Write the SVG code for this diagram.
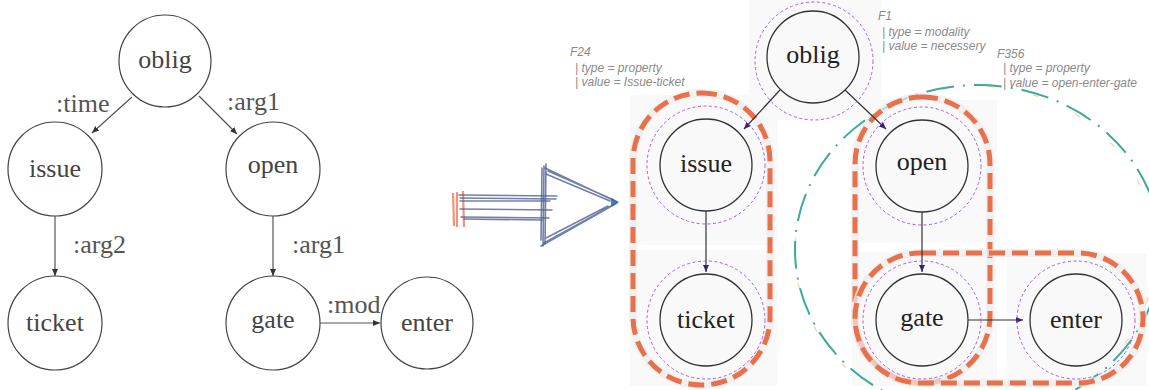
<svg xmlns="http://www.w3.org/2000/svg" width="1149" height="390" viewBox="0 0 1149 390">
<style>
.bg{fill:#ffffff}
.lc{fill:none;stroke:#444;stroke-width:1.2}
.lt{font-family:"Liberation Serif","Times New Roman","DejaVu Serif",serif;font-size:26px;fill:#444;text-anchor:middle}
.ll{font-family:"Liberation Serif","Times New Roman","DejaVu Serif",serif;font-size:26px;fill:#555}
.edge{fill:none;stroke:#555;stroke-width:1.2}
.tile{fill:#f9f9f9}
.rc{fill:none;stroke:#333;stroke-width:1.3}
.dot{fill:none;stroke:#a45ee8;stroke-width:1;stroke-dasharray:3 2.5}
.rt{font-family:"Liberation Serif","Times New Roman","DejaVu Serif",serif;font-size:26px;fill:#222;text-anchor:middle}
.redge{fill:none;stroke:#333;stroke-width:1.2}
.grp{fill:none;stroke:#e8714c;stroke-width:5;stroke-dasharray:16 7}
.halo{fill:none;stroke:#ececec;stroke-width:8;stroke-opacity:0.7}
.teal{fill:none;stroke:#3ea99c;stroke-width:2;stroke-dasharray:28 9 2 9}
.yel{fill:none;stroke:#f6dcae;stroke-width:1.5;stroke-dasharray:6 40}
.ft{font-family:"Liberation Sans","DejaVu Sans",sans-serif;font-size:12px;font-style:italic;fill:#8a8a8a}
.sk{fill:none;stroke:#4d5f93;stroke-width:1.6;stroke-opacity:0.8;stroke-linecap:round}
.sko{fill:none;stroke:#ec7a5c;stroke-width:2.2;stroke-opacity:0.8}
</style>
<defs>
<marker id="ah" markerWidth="8" markerHeight="8" refX="7" refY="4" orient="auto" markerUnits="userSpaceOnUse">
<path d="M0,1 L7,4 L0,7 Z" fill="#333"/>
</marker>
<marker id="ahp" markerWidth="8" markerHeight="8" refX="7" refY="4" orient="auto" markerUnits="userSpaceOnUse">
<path d="M0,1 L7,4 L0,7 Z" fill="#3a2270"/>
</marker>
</defs>
<rect class="bg" x="0" y="0" width="1149" height="390"/>

<!-- Left graph -->
<g id="left-connectors">
<line class="edge" x1="132" y1="97" x2="92" y2="133" marker-end="url(#ah)"/>
<line class="edge" x1="199" y1="96" x2="237" y2="134" marker-end="url(#ah)"/>
<line class="edge" x1="55" y1="216" x2="55" y2="276" marker-end="url(#ah)"/>
<line class="edge" x1="273" y1="216" x2="273" y2="276" marker-end="url(#ah)"/>
<line class="edge" x1="320" y1="323" x2="380" y2="323" marker-end="url(#ah)"/>
<text class="ll" x="56" y="112">:time</text>
<text class="ll" x="227" y="110">:arg1</text>
<text class="ll" x="73" y="253">:arg2</text>
<text class="ll" x="292" y="253">:arg1</text>
<text class="ll" x="327" y="313">:mod</text>
</g>
<g id="l-oblig"><circle class="lc" cx="165" cy="61" r="46"/><text class="lt" x="165" y="68">oblig</text></g>
<g id="l-issue"><circle class="lc" cx="55" cy="169" r="47"/><text class="lt" x="55" y="177">issue</text></g>
<g id="l-open"><circle class="lc" cx="273" cy="169" r="47"/><text class="lt" x="273" y="173">open</text></g>
<g id="l-ticket"><circle class="lc" cx="55" cy="323" r="47"/><text class="lt" x="55" y="331">ticket</text></g>
<g id="l-gate"><circle class="lc" cx="273" cy="323" r="47"/><text class="lt" x="273" y="328">gate</text></g>
<g id="l-enter"><circle class="lc" cx="427" cy="323" r="46"/><text class="lt" x="427" y="331">enter</text></g>

<!-- Sketch arrow -->
<g id="transform-arrow">
<line class="sko" x1="453" y1="193" x2="454" y2="226"/>
<line class="sko" x1="457" y1="192" x2="457" y2="227"/>
<line class="sko" x1="463" y1="191" x2="464" y2="227"/>
<path class="sk" d="M459,195 L557,196 M460,198 L556,199 M460,201 L550,201 M460,209 L552,210 M461,217 L549,218 M464,219 L542,220"/>
<path class="sk" d="M544,166 L543,246 M546,164 L545,244 M542,168 L541,240"/>
<path class="sk" d="M545,168 L617,202 M548,171 L614,200 M546,174 L610,201 M541,246 L617,203 M544,243 L613,205 M546,238 L608,206"/>
<path d="M611,198 L619,202 L611,207 Z" fill="#2d6aa8" opacity="0.85"/>
</g>

<!-- Right graph tiles -->
<g id="tiles">
<rect class="tile" x="749" y="0" width="132" height="120"/>
<rect class="tile" x="630" y="95" width="147" height="150"/>
<rect class="tile" x="630" y="250" width="147" height="136"/>
<rect class="tile" x="856" y="100" width="141" height="143"/>
<rect class="tile" x="852" y="252" width="145" height="134"/>
<rect class="tile" x="1007" y="253" width="140" height="133"/>
</g>

<!-- Group annotations -->
<g id="groups">
<ellipse class="yel" cx="975" cy="252" rx="180" ry="166"/>
<ellipse class="teal" cx="978" cy="250" rx="183" ry="165"/>
<rect class="halo" x="633" y="93" width="137" height="292" rx="68"/>
<rect class="grp" x="633" y="93" width="137" height="292" rx="68"/>
<rect class="halo" x="855" y="97" width="135" height="286" rx="67"/>
<rect class="grp" x="855" y="97" width="135" height="286" rx="67"/>
<rect class="halo" x="855" y="253" width="288" height="130" rx="65"/>
<rect class="grp" x="855" y="253" width="288" height="130" rx="65"/>
</g>

<g id="right-connectors">
<line class="redge" x1="780" y1="90" x2="744" y2="129" marker-end="url(#ahp)"/>
<line class="redge" x1="845" y1="90" x2="886" y2="129" marker-end="url(#ahp)"/>
<line class="redge" x1="706" y1="211" x2="706" y2="272" marker-end="url(#ahp)"/>
<line class="redge" x1="922" y1="212" x2="922" y2="272" marker-end="url(#ahp)"/>
<line class="redge" x1="968" y1="320" x2="1023" y2="320" marker-end="url(#ahp)"/>
</g>

<g id="r-oblig"><circle class="dot" cx="814" cy="61" r="59"/><circle class="rc" cx="813" cy="57" r="46"/><text class="rt" x="813" y="63">oblig</text></g>
<g id="r-issue"><circle class="dot" cx="706" cy="165" r="59"/><circle class="rc" cx="706" cy="165" r="46"/><text class="rt" x="706" y="172">issue</text></g>
<g id="r-ticket"><circle class="dot" cx="706" cy="320" r="59"/><circle class="rc" cx="706" cy="320" r="46"/><text class="rt" x="706" y="328">ticket</text></g>
<g id="r-open"><circle class="dot" cx="922" cy="166" r="59"/><circle class="rc" cx="922" cy="166" r="46"/><text class="rt" x="922" y="170">open</text></g>
<g id="r-gate"><circle class="dot" cx="922" cy="320" r="59"/><circle class="rc" cx="922" cy="320" r="46"/><text class="rt" x="922" y="326">gate</text></g>
<g id="r-enter"><circle class="dot" cx="1076" cy="320" r="59"/><circle class="rc" cx="1076" cy="320" r="46"/><text class="rt" x="1076" y="328">enter</text></g>

<g id="feature-labels">
<text class="ft" x="570" y="56">F24</text>
<text class="ft" x="575" y="72">| type = property</text>
<text class="ft" x="575" y="86">| value = Issue-ticket</text>
<text class="ft" x="878" y="20">F1</text>
<text class="ft" x="882" y="36">| type = modality</text>
<text class="ft" x="882" y="50">| value = necessery</text>
<text class="ft" x="997" y="58">F356</text>
<text class="ft" x="1003" y="72">| type = property</text>
<text class="ft" x="1003" y="87">| value = open-enter-gate</text>
</g>
</svg>
